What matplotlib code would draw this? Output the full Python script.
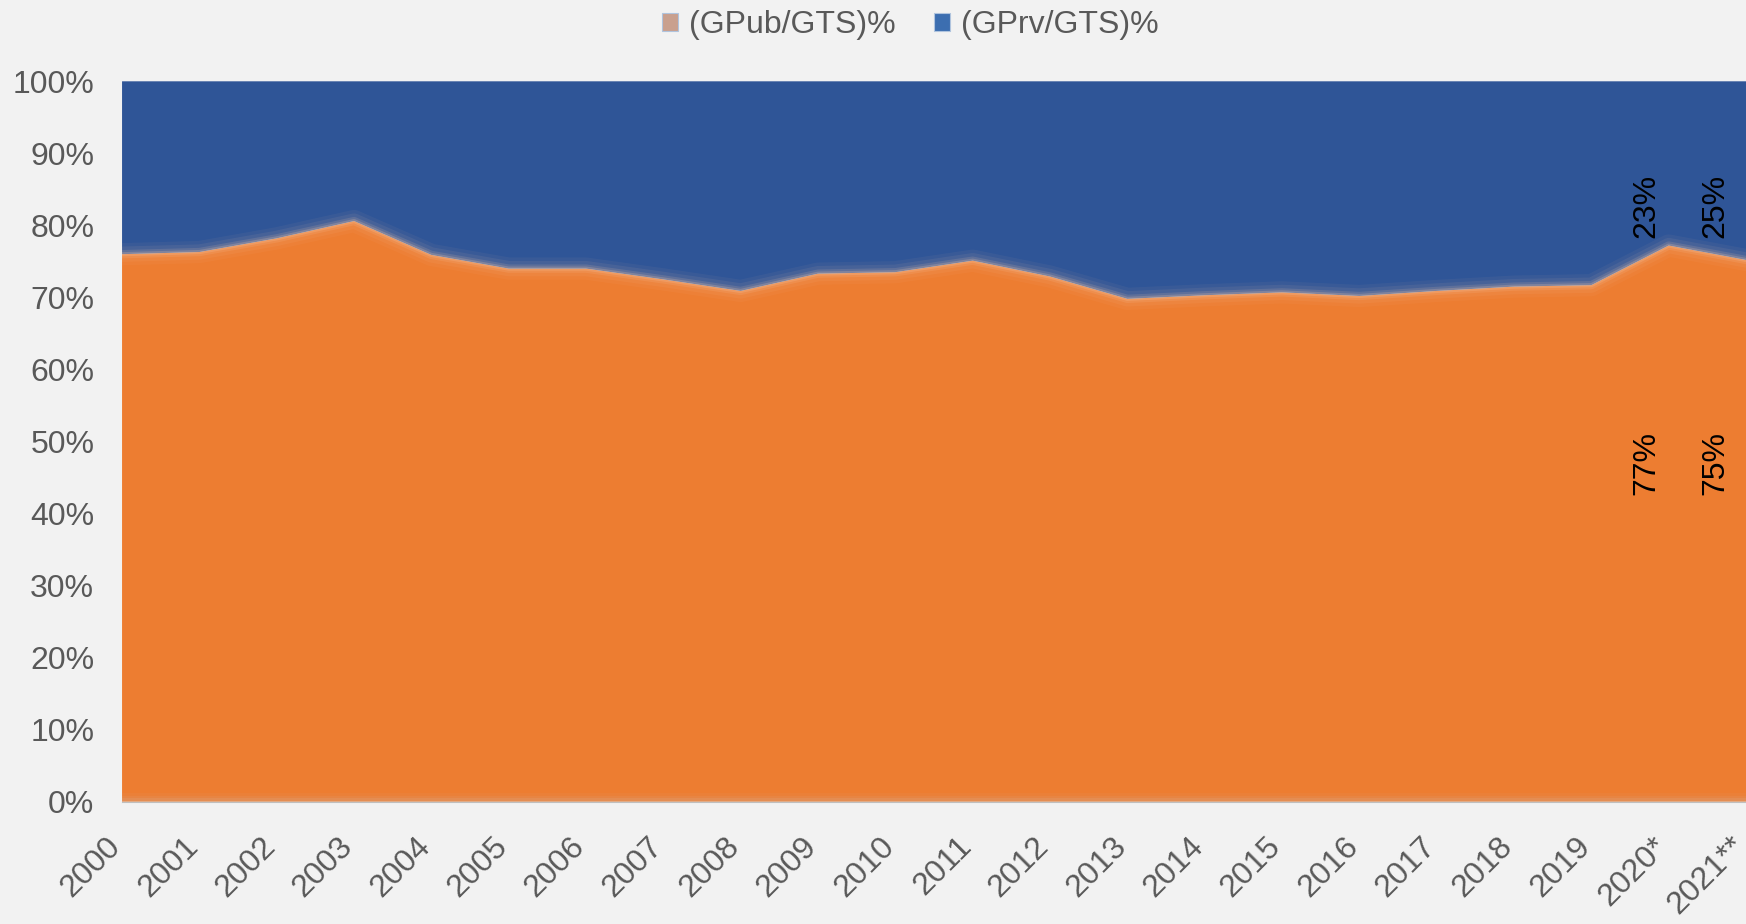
import matplotlib.pyplot as plt
import numpy as np
from matplotlib.patches import Patch

plt.rcParams['font.family'] = ['Liberation Sans', 'DejaVu Sans']

years = ['2000', '2001', '2002', '2003', '2004', '2005', '2006', '2007', '2008', '2009', '2010',
         '2011', '2012', '2013', '2014', '2015', '2016', '2017', '2018', '2019', '2020*', '2021**']
gpub = [76.0, 76.3, 78.2, 80.6, 75.9, 74.0, 74.0, 72.5, 70.9, 73.3, 73.5,
        75.1, 72.9, 69.8, 70.3, 70.7, 70.2, 70.9, 71.5, 71.7, 77.2, 75.2]
gprv = [100 - v for v in gpub]

# labels shown only on the last two years
lbl_idx = [20, 21]
lbl_pub = ['77%', '75%']
lbl_prv = ['23%', '25%']

bg = '#F2F2F2'
orange = '#ED7D31'
blue = '#2F5597'

fig = plt.figure(figsize=(17.46, 9.24), dpi=100, facecolor=bg)
ax = fig.add_axes([0.0699, 0.1324, 0.9301, 0.7796])
ax.set_facecolor(bg)

x = np.arange(len(years))
ax.stackplot(x, gpub, gprv, colors=[orange, blue], linewidth=0)

# soft glow along the boundary
for lw, a in [(16, 0.05), (11, 0.08), (6, 0.14), (3, 0.22)]:
    ax.plot(x, gpub, color='#F7C9A8', lw=lw, alpha=a, solid_joinstyle='round')
for lw, a in [(10, 0.05), (6, 0.08), (3, 0.12)]:
    ax.plot(x, [0.3] * len(x), color='#C8C8C8', lw=lw, alpha=a)

ax.set_xlim(0, len(years) - 1)
ax.set_ylim(0, 100)
ax.set_yticks(np.arange(0, 101, 10))
ax.set_yticklabels([f'{v}%' for v in range(0, 101, 10)])
ax.set_xticks(x)
ax.set_xticklabels(years, rotation=45, ha='right', va='baseline', rotation_mode='anchor')
ax.tick_params(axis='both', length=0, labelsize=23, colors='#595959')
ax.tick_params(axis='y', pad=20)
ax.tick_params(axis='x', pad=33)

for s in ['top', 'right', 'left']:
    ax.spines[s].set_visible(False)
ax.spines['bottom'].set_color('#BFBFBF')

offs = [0.29, 0.40]
for i, o, tp, tv in zip(lbl_idx, offs, lbl_pub, lbl_prv):
    ax.text(i - o, 47, tp, rotation=90, ha='center', va='center', fontsize=23, color='black')
    ax.text(i - o, 82.7, tv, rotation=90, ha='center', va='center', fontsize=23, color='black')

handles = [Patch(facecolor='#C9A08E', edgecolor='#B0C4DE', lw=0.8),
           Patch(facecolor='#3C6EB0', edgecolor='#B0C4DE', lw=0.8)]
fig.legend(handles, ['(GPub/GTS)%', '(GPrv/GTS)%'], loc='center', bbox_to_anchor=(0.5215, 0.973),
           ncol=2, frameon=False, fontsize=23, labelcolor='#595959',
           handlelength=0.5, handleheight=0.5, handletextpad=0.35, columnspacing=1.2)

fig.savefig('out.png', dpi=100, facecolor=bg)
